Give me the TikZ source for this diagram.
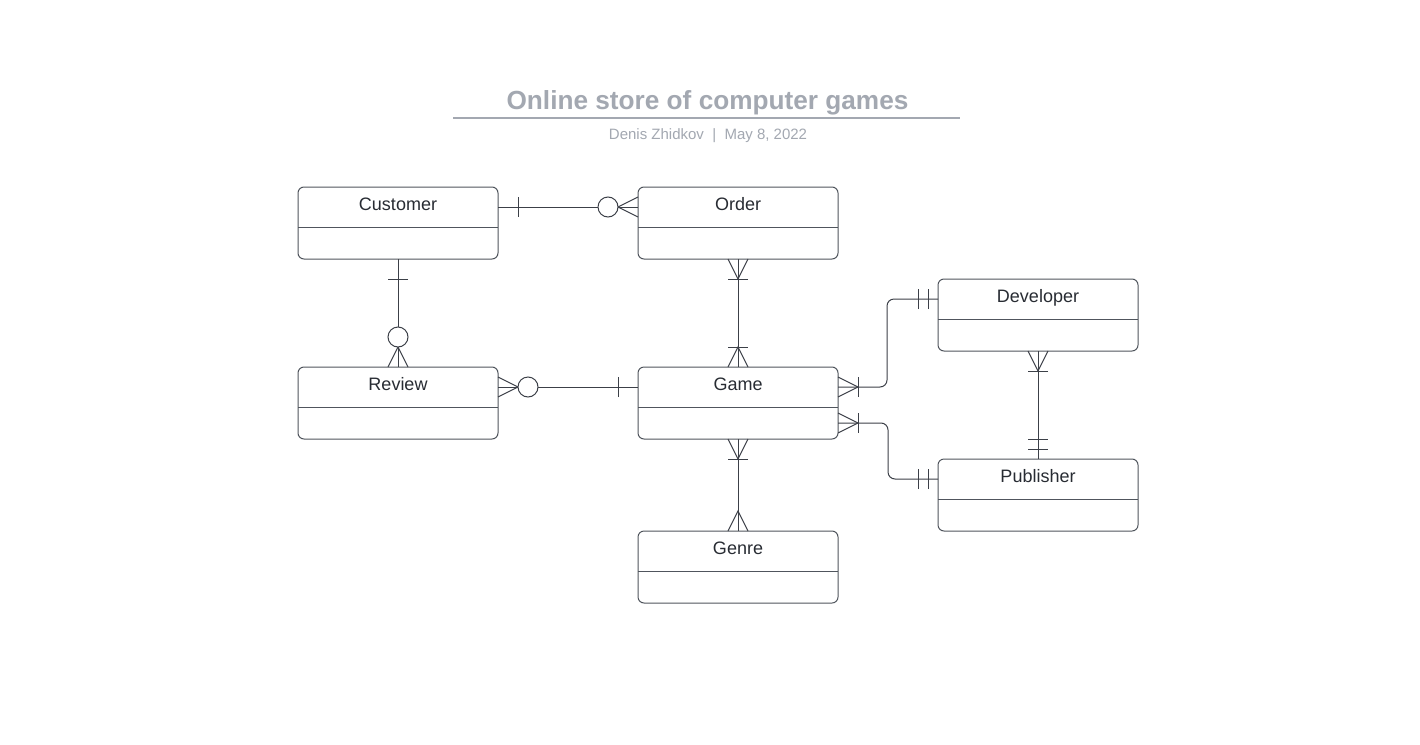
\documentclass[tikz,border=0pt]{standalone}
\usepackage{fontspec}
\setmainfont{Liberation Sans}
\usetikzlibrary{calc}
\definecolor{ln}{HTML}{3C4048}
\definecolor{bx}{HTML}{50555D}
\definecolor{tx}{HTML}{282C33}
\definecolor{tt}{HTML}{A3A8B1}
\tikzset{
 conn/.style={draw=ln, line width=1pt},
 entity/.style={draw=bx, line width=1pt, rounded corners=6pt, minimum width=200pt, minimum height=72pt, inner sep=0pt, outer sep=0pt, anchor=north west},
 elabel/.style={font=\fontsize{18}{20}\selectfont, text=tx, anchor=base, inner sep=0pt},
 pics/cfoot/.style={code={\draw[conn] (0,-10)--(20,0)--(0,10);}},
 pics/cbar/.style={code={\draw[conn] (#1,-10)--(#1,10);}},
 pics/cring/.style={code={\draw[conn,fill=white] (30,0) circle (10);}},
}
\newcommand\entity[4]{%
 \node[entity] (#1) at (#2,#3) {};
 \draw[draw=bx, line width=1pt] ($(#1.north west)+(0,40)$) -- ($(#1.north east)+(0,40)$);
 \node[elabel] (#1-t) at ($(#1.north)+(0,23.5)$) {#4};
}
\begin{document}
\begin{tikzpicture}[x=1pt,y=-1pt]
\useasboundingbox (0,0) rectangle (1420,744);
\fill[white] (0,0) rectangle (1420,744);

% title
\node[font=\bfseries\fontsize{26.2}{30}\selectfont, text=tt, anchor=base, inner sep=0pt] (title) at (707.5,109) {Online store of computer games};
\coordinate (tl) at (453,118);
\coordinate (tr) at (960,118);
\draw[tt, line width=2pt] (tl) -- (tr);
\node[font=\fontsize{15}{18}\selectfont, text=tt, anchor=base, inner sep=0pt] (sub) at (708,139) {Denis Zhidkov\ \ |\ \ May 8, 2022};

% entities
\entity{cust}{298}{187}{Customer}
\entity{ord}{638}{187}{Order}
\entity{rev}{298}{367}{Review}
\entity{game}{638}{367}{Game}
\entity{dev}{938}{279}{Developer}
\entity{pub}{938}{459}{Publisher}
\entity{gen}{638}{531}{Genre}

% anchor points
\coordinate (c1a) at ($(cust.north east)+(0,20)$);
\coordinate (c1b) at ($(ord.north west)+(0,20)$);
\coordinate (c4a) at ($(rev.north east)+(0,20)$);
\coordinate (c4b) at ($(game.north west)+(0,20)$);
\coordinate (c5a) at ($(game.north east)+(0,20)$);
\coordinate (c5b) at ($(dev.north west)+(0,20)$);
\coordinate (c6a) at ($(game.north east)+(0,56)$);
\coordinate (c6b) at ($(pub.north west)+(0,20)$);

% connectors
\draw[conn] (c1a) -- (c1b);
\draw[conn] (cust.south) -- (rev.north);
\draw[conn] (ord.south) -- (game.north);
\draw[conn] (c4a) -- (c4b);
\draw[conn, rounded corners=7pt] (c5a) -- ++(49,0) |- (c5b);
\draw[conn, rounded corners=7pt] (c6a) -- ++(50,0) |- (c6b);
\draw[conn] (dev.south) -- (pub.north);
\draw[conn] (game.south) -- (gen.north);

% Customer - Order
\pic[rotate=0] at (c1a) {cbar=20};
\pic[rotate=180] at (c1b) {cfoot};
\pic[rotate=180] at (c1b) {cring};
% Customer - Review
\pic[rotate=-90] at (cust.south) {cbar=20};
\pic[rotate=90] at (rev.north) {cfoot};
\pic[rotate=90] at (rev.north) {cring};
% Order - Game
\pic[rotate=-90] at (ord.south) {cfoot};
\pic[rotate=-90] at (ord.south) {cbar=20};
\pic[rotate=90] at (game.north) {cfoot};
\pic[rotate=90] at (game.north) {cbar=20};
% Review - Game
\pic[rotate=0] at (c4a) {cfoot};
\pic[rotate=0] at (c4a) {cring};
\pic[rotate=180] at (c4b) {cbar=20};
% Game - Developer
\pic[rotate=0] at (c5a) {cfoot};
\pic[rotate=0] at (c5a) {cbar=20};
\pic[rotate=180] at (c5b) {cbar=10};
\pic[rotate=180] at (c5b) {cbar=20};
% Game - Publisher
\pic[rotate=0] at (c6a) {cfoot};
\pic[rotate=0] at (c6a) {cbar=20};
\pic[rotate=180] at (c6b) {cbar=10};
\pic[rotate=180] at (c6b) {cbar=20};
% Developer - Publisher
\pic[rotate=-90] at (dev.south) {cfoot};
\pic[rotate=-90] at (dev.south) {cbar=20};
\pic[rotate=90] at (pub.north) {cbar=10};
\pic[rotate=90] at (pub.north) {cbar=20};
% Game - Genre
\pic[rotate=-90] at (game.south) {cfoot};
\pic[rotate=-90] at (game.south) {cbar=20};
\pic[rotate=90] at (gen.north) {cfoot};
\end{tikzpicture}
\end{document}
